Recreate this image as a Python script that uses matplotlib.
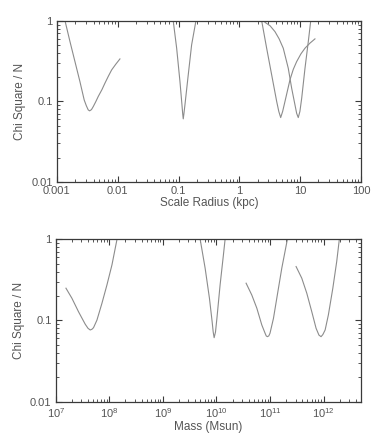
"""
Chi square / N versus scale radius and mass, two log-log panels
"""

import matplotlib.pyplot as plt
from matplotlib.ticker import FixedLocator, LogLocator, NullFormatter

plt.rcParams['font.family'] = ['Liberation Sans', 'DejaVu Sans']
plt.rcParams['mathtext.fontset'] = 'custom'
plt.rcParams['mathtext.rm'] = 'Liberation Sans'

# ---- top panel: scale radius (kpc) ----
r1_x = [0.00136, 0.00164, 0.00198, 0.00239, 0.00281, 0.00305, 0.00327,
        0.00345, 0.00370, 0.00396, 0.00435, 0.00478, 0.0055, 0.00615,
        0.0070, 0.00794, 0.0093, 0.01087]
r1_y = [1.0, 0.553, 0.312, 0.176, 0.104, 0.088, 0.0784, 0.0762, 0.079,
        0.0862, 0.099, 0.115, 0.14, 0.168, 0.205, 0.246, 0.29, 0.337]

r2_x = [0.0818, 0.0931, 0.1055, 0.1138, 0.117, 0.1195, 0.1225, 0.1274,
        0.1443, 0.164, 0.193]
r2_y = [1.0, 0.458, 0.176, 0.0905, 0.070, 0.0606, 0.070, 0.0905, 0.213,
        0.503, 1.0]

r3_x = [2.33, 2.81, 3.40, 4.11, 4.45, 4.78, 5.15, 5.62, 6.79, 7.7, 8.75,
        10.3, 12.0, 14.5, 17.5]
r3_y = [1.0, 0.458, 0.213, 0.0995, 0.075, 0.0629, 0.075, 0.0995, 0.185,
        0.25, 0.312, 0.39, 0.458, 0.53, 0.598]

r4_x = [2.64, 3.2, 3.85, 4.5, 5.27, 6.37, 7.24, 8.21, 8.75, 9.30, 9.9,
        10.6, 12.0, 13.6, 14.9]
r4_y = [0.96, 0.87, 0.736, 0.60, 0.458, 0.258, 0.146, 0.0905, 0.071,
        0.0629, 0.075, 0.110, 0.258, 0.553, 1.0]

radius_ticks = [0.001, 0.01, 0.1, 1, 10, 100]
radius_labels = ['0.001', '0.01', '0.1', '1', '10', '100']

# ---- bottom panel: mass (Msun) ----
m1_x = [1.55e7, 2.00e7, 2.66e7, 3.55e7, 4.0e7, 4.40e7, 4.75e7, 5.07e7,
        5.87e7, 7.28e7, 9.02e7, 1.12e8, 1.39e8]
m1_y = [0.250, 0.188, 0.128, 0.0898, 0.080, 0.0763, 0.078, 0.0815, 0.101,
        0.163, 0.274, 0.485, 1.0]

m2_x = [4.97e9, 6.15e9, 7.40e9, 8.31e9, 8.7e9, 9.06e9, 9.6e9, 1.02e10,
        1.17e10, 1.35e10, 1.45e10]
m2_y = [1.0, 0.441, 0.188, 0.0966, 0.072, 0.0613, 0.072, 0.106, 0.274,
        0.644, 1.0]

m3_x = [3.58e10, 4.57e10, 5.67e10, 7.03e10, 8.10e10, 8.5e10, 8.94e10,
        9.5e10, 1.00e11, 1.16e11, 1.37e11, 1.66e11, 2.11e11]
m3_y = [0.288, 0.206, 0.142, 0.088, 0.0695, 0.0645, 0.0631, 0.0645, 0.0695,
        0.106, 0.206, 0.441, 1.0]

m4_x = [3.07e11, 3.92e11, 4.86e11, 6.03e11, 7.25e11, 8.2e11, 8.98e11,
        9.7e11, 1.07e12, 1.23e12, 1.49e12, 1.76e12, 1.97e12]
m4_y = [0.462, 0.332, 0.217, 0.128, 0.0801, 0.066, 0.0631, 0.067, 0.0763,
        0.117, 0.250, 0.532, 1.0]

mass_ticks = [1e7, 1e8, 1e9, 1e10, 1e11, 1e12]
mass_labels = [r'$10^{7}$', r'$10^{8}$', r'$10^{9}$', r'$10^{10}$',
               r'$10^{11}$', r'$10^{12}$']

chi_ticks = [0.01, 0.1, 1]
chi_labels = ['0.01', '0.1', '1']

line_col = '#8c8c8c'
text_col = '#555555'
axis_col = '#3a3a3a'

fig = plt.figure(figsize=(3.82, 4.36), dpi=100)
ax1 = fig.add_axes([0.149, 0.583, 0.796, 0.369])
ax2 = fig.add_axes([0.146, 0.079, 0.799, 0.372])


def style(ax, xlim, xticks, xlabels, xlabel):
    ax.set_xscale('log')
    ax.set_yscale('log')
    ax.set_xlim(*xlim)
    ax.set_ylim(0.01, 1)
    ax.xaxis.set_major_locator(FixedLocator(xticks))
    ax.set_xticklabels(xlabels)
    ax.xaxis.set_minor_locator(LogLocator(base=10, subs=range(2, 10), numticks=20))
    ax.xaxis.set_minor_formatter(NullFormatter())
    ax.yaxis.set_major_locator(FixedLocator(chi_ticks))
    ax.set_yticklabels(chi_labels)
    ax.yaxis.set_minor_locator(LogLocator(base=10, subs=range(2, 10), numticks=20))
    ax.yaxis.set_minor_formatter(NullFormatter())
    ax.tick_params(which='both', direction='in', top=True, right=True,
                   color=axis_col, labelcolor=text_col, labelsize=8)
    ax.tick_params(axis='x', pad=3)
    ax.tick_params(axis='y', pad=3)
    ax.tick_params(which='major', length=4, width=0.8)
    ax.tick_params(which='minor', length=2, width=0.6)
    for s in ax.spines.values():
        s.set_color(axis_col)
        s.set_linewidth(0.9)
    ax.set_xlabel(xlabel, color=text_col, fontsize=8.5, labelpad=1)
    ax.set_ylabel('Chi Square / N', color=text_col, fontsize=8.5, labelpad=4)


for xs, ys in [(r1_x, r1_y), (r2_x, r2_y), (r3_x, r3_y), (r4_x, r4_y)]:
    ax1.plot(xs, ys, color=line_col, lw=0.8)
style(ax1, (0.001, 100), radius_ticks, radius_labels, 'Scale Radius (kpc)')

for xs, ys in [(m1_x, m1_y), (m2_x, m2_y), (m3_x, m3_y), (m4_x, m4_y)]:
    ax2.plot(xs, ys, color=line_col, lw=0.8)
style(ax2, (1e7, 5e12), mass_ticks, mass_labels, 'Mass (Msun)')

plt.savefig('out.png', dpi=100)
